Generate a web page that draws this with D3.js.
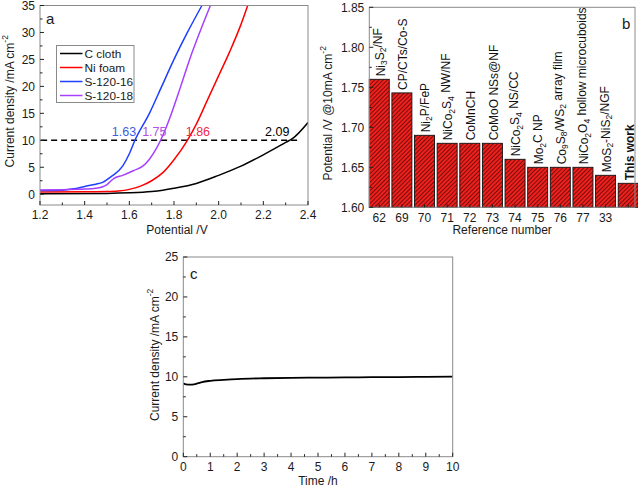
<!DOCTYPE html>
<html><head><meta charset="utf-8">
<script src="https://cdn.jsdelivr.net/npm/d3@7"></script>
<style>
body{margin:0;background:#fff;}
svg{font-family:"Liberation Sans",Arial,sans-serif;}
</style></head>
<body>
<svg id="c" width="638" height="487"></svg>
<script>
// ---------- Panel a data ----------
const cClothV = [1.2,1.5,1.6,1.7,1.75,1.8,1.9,2.0,2.1,2.2,2.3,2.33,2.4];
const cClothJ = [0.1,0.15,0.25,0.5,0.75,1.1,2.0,3.5,5.2,7.3,9.6,10.3,13.3];
const niFoamV = [1.2,1.4,1.5,1.55,1.6,1.65,1.7,1.75,1.8,1.86,1.9,1.95,2.0,2.05,2.1,2.13];
const niFoamJ = [0.4,0.45,0.5,0.6,0.9,1.5,2.5,4.0,6.4,10,13,17.5,22,26.5,31.5,35];
const s16V = [1.2,1.3,1.35,1.4,1.45,1.48,1.52,1.57,1.6,1.625,1.69,1.745,1.80,1.86,1.925];
const s16J = [0.7,0.75,1.0,1.45,1.85,2.2,3.3,5.2,7.5,10,15,20,25,30,35];
const s18V = [1.2,1.3,1.4,1.45,1.5,1.53,1.57,1.62,1.66,1.69,1.72,1.74,1.78,1.83,1.87,1.915,1.963];
const s18J = [0.8,0.85,0.95,1.1,1.8,2.9,3.5,4.4,5.2,6.5,8.4,10,14,20,25,30,35];
const seriesNames = ["C cloth","Ni foam","S-120-16","S-120-18"];
const seriesColors = ["#000000","#ff0000","#1f3fff","#a640ff"];
const labelTexts = ["2.09","1.86","1.63","1.75"];
const labelColors = ["#000000","#ee2a4a","#3b5fe0","#b54fe8"];
const labelX = [2.262,1.907,1.576,1.712];
const xTicksA = [1.2,1.4,1.6,1.8,2.0,2.2,2.4];
const yTicksA = [0,5,10,15,20,25,30,35];

// ---------- Panel b data ----------
const refNumbers = ["62","69","70","71","72","73","74","75","76","77","33",""];
const refPotentials = [1.76,1.743,1.69,1.68,1.68,1.68,1.66,1.65,1.65,1.65,1.64,1.63];
// label parts: [text, isSubscript]
const refLabels = [
  [["Ni",0],["3",1],["S",0],["2",1],["/NF",0]],
  [["CP/CTs/Co-S",0]],
  [["Ni",0],["2",1],["P/FeP",0]],
  [["NiCo",0],["2",1],["S",0],["4",1],[" NW/NF",0]],
  [["CoMnCH",0]],
  [["CoMoO NSs@NF",0]],
  [["NiCo",0],["2",1],["S",0],["4",1],[" NS/CC",0]],
  [["Mo",0],["2",1],["C NP",0]],
  [["Co",0],["9",1],["S",0],["8",1],["/WS",0],["2",1],[" array film",0]],
  [["NiCo",0],["2",1],["O",0],["4",1],[" hollow microcuboids",0]],
  [["MoS",0],["2",1],["-NiS",0],["2",1],["/NGF",0]],
  [["This work",0]]
];
const yTicksB = [1.60,1.65,1.70,1.75,1.80,1.85];

// ---------- Panel c data ----------
const timeH = [0,0.1,0.25,0.4,0.55,0.7,1.0,1.5,2.0,3.0,4.0,5.0,6.0,7.0,8.0,9.0,10.0];
const currentC = [9.2,9.05,9.02,9.05,9.2,9.35,9.5,9.62,9.72,9.82,9.88,9.9,9.92,9.95,9.97,10.0,10.03];
const xTicksC = [0,1,2,3,4,5,6,7,8,9,10];
const yTicksC = [0,5,10,15,20,25];

const svg = d3.select("#c");
const frameColor = "#8a8a8a";
const fs = 12;
const tc = "#1a1a1a";

// hatch pattern
const defs = svg.append("defs");
const pat = defs.append("pattern").attr("id","hatch").attr("patternUnits","userSpaceOnUse")
  .attr("width",3).attr("height",3).attr("patternTransform","rotate(45)");
pat.append("rect").attr("width",3).attr("height",3).attr("fill","#f0201c");
pat.append("line").attr("x1",0.5).attr("y1",0).attr("x2",0.5).attr("y2",3).attr("stroke","#6a0c0c").attr("stroke-width",0.9);

function frame(g, x0, x1, y0, y1){
  g.append("rect").attr("x",x0).attr("y",y1).attr("width",x1-x0).attr("height",y0-y1)
    .attr("fill","none").attr("stroke",frameColor).attr("stroke-width",1);
}
function yTitle(g, x, y, txt){
  const yt = g.append("text").attr("transform",`translate(${x},${y}) rotate(-90)`).attr("text-anchor","middle").attr("dy","0.36em").attr("font-size",fs).attr("fill",tc);
  yt.append("tspan").text(txt);
  yt.append("tspan").attr("dy","-0.7em").attr("font-size",8.5).text("-2");
}

// ================= Panel a =================
{
  const L=40,R=308,T=5.5,B=205;
  const x = d3.scaleLinear().domain([1.2,2.4]).range([L,R]);
  const y = d3.scaleLinear().domain([-2,35]).range([B,T]);
  const g = svg.append("g");
  g.append("clipPath").attr("id","clipA").append("rect").attr("x",L).attr("y",T).attr("width",R-L).attr("height",B-T);
  g.append("line").attr("x1",x(1.205)).attr("x2",x(2.365)).attr("y1",y(10)).attr("y2",y(10))
    .attr("stroke","#000").attr("stroke-width",1.6).attr("stroke-dasharray","6,4");
  const allV=[cClothV,niFoamV,s16V,s18V], allJ=[cClothJ,niFoamJ,s16J,s18J];
  const line = d3.line().x(d=>x(d[0])).y(d=>y(d[1])).curve(d3.curveMonotoneX);
  allV.forEach((vs,i)=>{
    g.append("path").attr("clip-path","url(#clipA)")
      .attr("d",line(vs.map((v,k)=>[v,allJ[i][k]])))
      .attr("fill","none").attr("stroke",seriesColors[i]).attr("stroke-width",1.5);
  });
  labelTexts.forEach((t,i)=>{
    g.append("text").attr("x",x(labelX[i])).attr("y",y(10)-4).attr("text-anchor","middle")
      .attr("font-size",12.5).attr("fill",labelColors[i]).text(t);
  });
  frame(g,L,R,B,T);
  d3.range(0,35.01,2.5).forEach((v,i)=>{
    const major = i%2===0;
    g.append("line").attr("x1",L).attr("x2",L+(major?4:2.5)).attr("y1",y(v)).attr("y2",y(v)).attr("stroke","#222");
  });
  d3.range(1.2,2.401,0.1).forEach((v,i)=>{
    const major = i%2===0;
    g.append("line").attr("x1",x(v)).attr("x2",x(v)).attr("y1",B).attr("y2",B-(major?4:2.5)).attr("stroke","#222");
  });
  yTicksA.forEach(v=>g.append("text").attr("x",L-5).attr("y",y(v)).attr("dy","0.36em").attr("text-anchor","end").attr("font-size",fs).attr("fill",tc).text(v));
  xTicksA.forEach(v=>g.append("text").attr("x",x(v)).attr("y",B+10).attr("dy","0.36em").attr("text-anchor","middle").attr("font-size",fs).attr("fill",tc).text(v.toFixed(1)));
  g.append("text").attr("x",(L+R)/2+3).attr("y",230).attr("dy","0.36em").attr("text-anchor","middle").attr("font-size",fs).attr("fill",tc).text("Potential /V");
  yTitle(g,10,(T+B)/2-4,"Current density /mA cm");
  g.append("text").attr("x",46).attr("y",24).attr("font-size",15).attr("fill",tc).text("a");
  // legend
  g.append("rect").attr("x",56.5).attr("y",45.5).attr("width",77.5).attr("height",57).attr("fill","#fff").attr("stroke",frameColor);
  seriesNames.forEach((n,i)=>{
    const yy = 53.5+i*14;
    g.append("line").attr("x1",60).attr("x2",82.5).attr("y1",yy).attr("y2",yy).attr("stroke",seriesColors[i]).attr("stroke-width",1.5);
    g.append("text").attr("x",84.5).attr("y",yy).attr("dy","0.36em").attr("font-size",11.8).attr("fill",tc).text(n);
  });
}

// ================= Panel b =================
{
  const L=369.3,R=635,T=7.3,B=207.3;
  const x = d3.scaleLinear().domain([-0.44,11.3]).range([L,R]);
  const y = d3.scaleLinear().domain([1.60,1.85]).range([B,T]);
  const g = svg.append("g");
  const bw = 20;
  refPotentials.forEach((v,i)=>{
    g.append("rect").attr("x",x(i)-bw/2).attr("y",y(v)).attr("width",bw).attr("height",B-y(v))
      .attr("fill","url(#hatch)").attr("stroke","#111").attr("stroke-width",0.9);
    const t = g.append("text").attr("transform",`translate(${x(i)+1},${y(v)-3}) rotate(-90)`)
      .attr("dy","0.36em").attr("font-size",12).attr("fill","#111");
    if(i===refLabels.length-1) t.attr("font-weight","bold");
    let prevSub=false;
    refLabels[i].forEach(([s,sub])=>{
      const sp = t.append("tspan").text(s);
      if(sub && !prevSub){ sp.attr("dy","0.3em").attr("font-size",8.5); }
      else if(!sub && prevSub){ sp.attr("dy","-0.3em"); }
      else if(sub){ sp.attr("font-size",8.5); }
      prevSub = !!sub;
    });
  });
  frame(g,L,R,B,T);
  d3.range(1.60,1.8501,0.025).forEach((v,i)=>{
    const major=i%2===0;
    g.append("line").attr("x1",L).attr("x2",L+(major?4:2.5)).attr("y1",y(v)).attr("y2",y(v)).attr("stroke","#222");
  });
  refNumbers.forEach((n,i)=>{
    g.append("line").attr("x1",x(i)).attr("x2",x(i)).attr("y1",B).attr("y2",B-3).attr("stroke","#222");
    g.append("text").attr("x",x(i)).attr("y",B+10).attr("dy","0.36em").attr("text-anchor","middle").attr("font-size",fs).attr("fill",tc).text(n);
  });
  yTicksB.forEach(v=>g.append("text").attr("x",L-5).attr("y",y(v)).attr("dy","0.36em").attr("text-anchor","end").attr("font-size",fs).attr("fill",tc).text(v.toFixed(2)));
  g.append("text").attr("x",(L+R)/2).attr("y",230).attr("dy","0.36em").attr("text-anchor","middle").attr("font-size",fs).attr("fill",tc).text("Reference number");
  yTitle(g,328,(T+B)/2+6,"Potential /V @10mA cm");
  g.append("text").attr("x",622).attr("y",29).attr("font-size",15).attr("fill",tc).text("b");
}

// ================= Panel c =================
{
  const L=183.3,R=452.7,T=257,B=456.7;
  const x = d3.scaleLinear().domain([0,10]).range([L,R]);
  const y = d3.scaleLinear().domain([0,25]).range([B,T]);
  const g = svg.append("g");
  const line = d3.line().x(d=>x(d[0])).y(d=>y(d[1])).curve(d3.curveMonotoneX);
  g.append("path").attr("d",line(timeH.map((t,i)=>[t,currentC[i]]))).attr("fill","none").attr("stroke","#000").attr("stroke-width",1.8);
  frame(g,L,R,B,T);
  d3.range(0,25.01,2.5).forEach((v,i)=>{
    const major=i%2===0;
    g.append("line").attr("x1",L).attr("x2",L+(major?4:2.5)).attr("y1",y(v)).attr("y2",y(v)).attr("stroke","#222");
  });
  d3.range(0,10.01,0.5).forEach((v,i)=>{
    const major=i%2===0;
    g.append("line").attr("x1",x(v)).attr("x2",x(v)).attr("y1",B).attr("y2",B-(major?4:2.5)).attr("stroke","#222");
  });
  yTicksC.forEach(v=>g.append("text").attr("x",L-5).attr("y",y(v)).attr("dy","0.36em").attr("text-anchor","end").attr("font-size",fs).attr("fill",tc).text(v));
  xTicksC.forEach(v=>g.append("text").attr("x",x(v)).attr("y",B+10).attr("dy","0.36em").attr("text-anchor","middle").attr("font-size",fs).attr("fill",tc).text(v));
  g.append("text").attr("x",(L+R)/2).attr("y",480.7).attr("dy","0.36em").attr("text-anchor","middle").attr("font-size",fs).attr("fill",tc).text("Time /h");
  yTitle(g,155,(T+B)/2-2,"Current density /mA cm");
  g.append("text").attr("x",190).attr("y",279).attr("font-size",15).attr("fill",tc).text("c");
}
</script>
</body></html>
